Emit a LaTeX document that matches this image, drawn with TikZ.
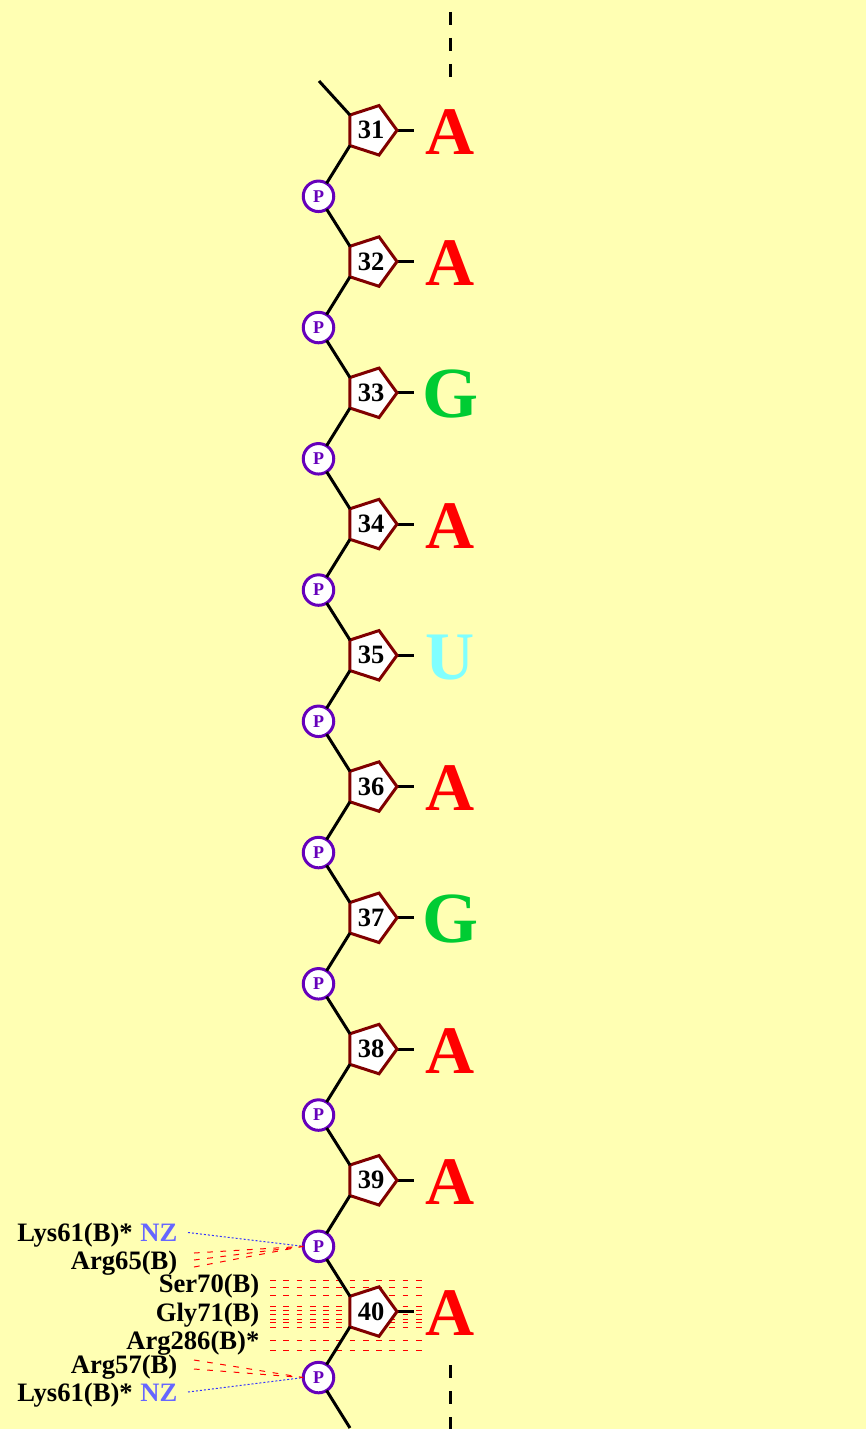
\documentclass[tikz,border=0pt]{standalone}
\usepackage{fontspec}
\setmainfont{Liberation Serif}
\usetikzlibrary{shapes.geometric}
\definecolor{bgc}{HTML}{FFFFB3}
\definecolor{sugar}{HTML}{800000}
\definecolor{phos}{HTML}{6600BB}
\definecolor{baseA}{HTML}{FF0000}
\definecolor{baseG}{HTML}{00CC33}
\definecolor{baseU}{HTML}{80FFFF}
\definecolor{nz}{HTML}{6666FF}
\tikzset{
  sugarnode/.style={regular polygon,regular polygon sides=5,shape border rotate=-90,draw=sugar,fill=white,line width=3pt,minimum size=52pt,inner sep=0pt,outer sep=0pt,font=\fontsize{26.5}{26.5}\selectfont\bfseries},
  phosnode/.style={circle,draw=phos,fill=white,line width=3pt,minimum size=30.5pt,inner sep=0pt,outer sep=0pt,text=phos,font=\fontsize{18}{18}\selectfont\bfseries},
  baselet/.style={anchor=base,inner sep=0pt,font=\fontsize{68}{68}\selectfont\bfseries},
  reslabel/.style={anchor=base east,inner sep=0pt,font=\fontsize{26.6}{26.6}\selectfont\bfseries},
  bond/.style={line width=3pt,black},
  hbond/.style={red,line width=1pt,dash pattern=on 5.7pt off 7.57pt},
  nzbond/.style={blue!80!white,line width=1pt,dash pattern=on 2pt off 2pt},
  backdash/.style={line width=3pt,black,dash pattern=on 13pt off 13pt},
}
\begin{document}
\begin{tikzpicture}[x=1pt,y=-1pt]
\useasboundingbox (0,0) rectangle (866,1429);
\fill[bgc] (0,0) rectangle (866,1429);
% hydrogen bonds to base 40 (behind the sugar)
\foreach \i/\y in {1/1280.7,2/1287,3/1295,4/1306,5/1310,6/1314.3,7/1319,8/1322.7,9/1327,10/1340.7,11/1350}{
  \coordinate (hl\i) at (270,\y); \coordinate (hr\i) at (422,\y);
  \draw[hbond] (hl\i) -- (hr\i);
}
% phosphates
\foreach \n in {1,...,10}{
  \node[phosnode] (p\n) at (318.5,{196.3+(\n-1)*131.25}) {P};
}
% sugars and bases
\foreach \n/\b/\c/\s in {31/A/baseA/68,32/A/baseA/68,33/G/baseG/72,34/A/baseA/68,35/U/baseU/68,36/A/baseA/68,37/G/baseG/72,38/A/baseA/68,39/A/baseA/68,40/A/baseA/68}{
  \pgfmathsetmacro{\yy}{130.3+(\n-31)*131.25}
  \coordinate (bs\n) at (414,\yy);
  \draw[bond] (371,\yy) -- (bs\n);
  \node[sugarnode] (s\n) at (371,\yy) {\n};
  \node[baselet,text=\c,font=\fontsize{\s}{\s}\selectfont\bfseries] (b\n) at (450,\yy+24.3) {\b};
}
% backbone
\coordinate (topend) at (319,81);
\coordinate (botend) at (350,1428);
\draw[bond] (topend) -- (s31.corner 3);
\draw[bond] (s40.corner 4) -- (p10);
\draw[bond] (p10) -- (botend);
\foreach \a/\b/\c in {31/1/32,32/2/33,33/3/34,34/4/35,35/5/36,36/6/37,37/7/38,38/8/39,39/9/40}{
  \draw[bond] (s\a.corner 4) -- (p\b);
  \draw[bond] (p\b) -- (s\c.corner 3);
}
% dashed strand continuation
\coordinate (dt1) at (450,12); \coordinate (dt2) at (450,78);
\coordinate (db1) at (450,1365); \coordinate (db2) at (450,1429);
\draw[backdash] (dt1) -- (dt2);
\draw[backdash] (db1) -- (db2);
% residue labels
\node[reslabel] (l1) at (177.5,1241) {Lys61(B)*\hspace{1pt} \textcolor{nz}{NZ}};
\node[reslabel] (l2) at (177.5,1269.3) {Arg65(B)};
\node[reslabel] (l3) at (259.5,1292) {Ser70(B)};
\node[reslabel] (l4) at (259.5,1321) {Gly71(B)};
\node[reslabel] (l5) at (259.5,1349.6) {Arg286(B)*};
\node[reslabel] (l6) at (177.5,1373.3) {Arg57(B)};
\node[reslabel] (l7) at (177.5,1401) {Lys61(B)*\hspace{1pt} \textcolor{nz}{NZ}};
% contacts to phosphates
\coordinate (a1) at (188,1232.5); \coordinate (a2) at (188,1392);
\draw[nzbond] (a1) -- (p9.west);
\draw[nzbond] (a2) -- (p10.west);
\foreach \i/\y in {1/1253,2/1260,3/1267}{
  \coordinate (c\i) at (194,\y);
  \draw[hbond] (c\i) -- (p9.west);
}
\foreach \i/\y in {4/1360,5/1369}{
  \coordinate (c\i) at (194,\y);
  \draw[hbond] (c\i) -- (p10.west);
}
\end{tikzpicture}
\end{document}
